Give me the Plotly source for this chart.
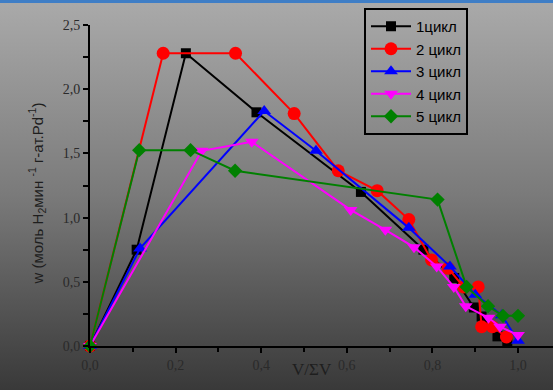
import base64
import plotly.graph_objects as go

# ---- data ----
series_names = ["1цикл", "2 цикл", "3 цикл", "4 цикл", "5 цикл"]

x1 = [0, 0.109, 0.224, 0.389, 0.633, 0.779, 0.851, 0.897, 0.915, 0.952, 0.975]
y1 = [0, 0.75, 2.28, 1.82, 1.20, 0.75, 0.53, 0.30, 0.23, 0.075, 0.03]

x2 = [0, 0.171, 0.340, 0.477, 0.580, 0.671, 0.745, 0.798, 0.837, 0.873, 0.907, 0.915, 0.940, 0.973]
y2 = [0, 2.28, 2.28, 1.81, 1.365, 1.21, 0.985, 0.67, 0.605, 0.46, 0.46, 0.15, 0.15, 0.07]

x3 = [0, 0.117, 0.407, 0.528, 0.745, 0.841, 0.900, 0.962, 1.0]
y3 = [0, 0.76, 1.83, 1.52, 0.92, 0.62, 0.40, 0.24, 0.04]

x4 = [0, 0.261, 0.378, 0.609, 0.690, 0.757, 0.810, 0.850, 0.878, 0.931, 0.958, 1.0]
y4 = [0, 1.52, 1.59, 1.06, 0.905, 0.77, 0.62, 0.46, 0.31, 0.22, 0.15, 0.085]

x5 = [0, 0.115, 0.235, 0.339, 0.812, 0.880, 0.930, 0.965, 1.0]
y5 = [0, 1.525, 1.525, 1.365, 1.14, 0.46, 0.31, 0.235, 0.235]

xs = [x1, x2, x3, x4, x5]
ys = [y1, y2, y3, y4, y5]

colors = ["#000000", "#ff0000", "#0000ff", "#ff00ff", "#008000"]
symbols = ["square", "circle", "triangle-up", "triangle-down", "diamond"]
sizes = [10, 13, 12, 12, 11]

W, H = 553, 390
ML, MR, MT, MB = 90, 0, 25, 44
PW, PH = W - ML - MR, H - MT - MB

fig = go.Figure()
for name, x, y, c, s, sz in zip(series_names, xs, ys, colors, symbols, sizes):
    fig.add_trace(go.Scatter(
        x=x, y=y, name=name, mode="lines+markers",
        line=dict(color=c, width=2),
        marker=dict(symbol=s, size=sz, color=c, line=dict(width=0)),
        cliponaxis=False,
    ))

# gradient background as SVG image
svg = f'''<svg xmlns="http://www.w3.org/2000/svg" width="{W}" height="{H}" viewBox="0 0 {W} {H}" preserveAspectRatio="none">
<defs><linearGradient id="g" x1="0" y1="0" x2="0" y2="1">
<stop offset="0" stop-color="#aaaaaa"/>
<stop offset="0.5" stop-color="#7a7a7a"/>
<stop offset="1" stop-color="#393939"/>
</linearGradient></defs>
<rect width="{W}" height="{H}" fill="url(#g)"/>
<rect width="{W}" height="3" fill="#3f7ec6"/>
</svg>'''
src = "data:image/svg+xml;base64," + base64.b64encode(svg.encode()).decode()

def px_x(p):
    return (p - ML) / PW

def px_y(p):
    return (H - MB - p) / PH

fig.add_layout_image(dict(
    source=src, xref="paper", yref="paper",
    x=px_x(0), y=px_y(0), sizex=W / PW, sizey=H / PH,
    xanchor="left", yanchor="top", sizing="stretch", layer="below",
))

tickfont = dict(family="Liberation Serif", size=14, color="#2a2a2a")

fig.update_layout(
    template="none",
    width=W, height=H,
    margin=dict(l=ML, r=MR, t=MT, b=MB),
    paper_bgcolor="#777777",
    plot_bgcolor="rgba(0,0,0,0)",
    separators=", ",
    showlegend=True,
    legend=dict(
        x=px_x(364), y=px_y(8), xanchor="left", yanchor="top",
        bgcolor="rgba(0,0,0,0)", bordercolor="#000000", borderwidth=2,
        font=dict(family="Liberation Sans", size=15, color="#000000"),
        itemwidth=40, tracegroupgap=0,
    ),
    xaxis=dict(
        range=[0, (W - ML) / 428], showgrid=False, zeroline=False,
        showline=True, linecolor="#000000", linewidth=2,
        ticks="outside", ticklen=5, tickwidth=2, tickcolor="#000000",
        tick0=0, dtick=0.2, tickformat=".1f", tickfont=tickfont,
        minor=dict(dtick=0.1, ticks="outside", ticklen=4, tickwidth=2,
                   tickcolor="#000000", showgrid=False),
    ),
    yaxis=dict(
        range=[0, 2.5], showgrid=False, zeroline=False,
        showline=True, linecolor="#000000", linewidth=2,
        ticks="outside", ticklen=5, tickwidth=2, tickcolor="#000000",
        tick0=0, dtick=0.5, tickformat=".1f", tickfont=tickfont,
        minor=dict(dtick=0.25, ticks="outside", ticklen=5, tickwidth=2,
                   tickcolor="#000000", showgrid=False),
    ),
    annotations=[
        dict(text="V/ΣV", xref="paper", yref="paper", x=px_x(312), y=px_y(381),
             showarrow=False, font=dict(family="Liberation Serif", size=17, color="#1e1e1e")),
        dict(text="w (моль H<sub>2</sub>мин <sup>-1</sup> г-ат.Pd<sup>-1</sup>)",
             xref="paper", yref="paper", x=px_x(25), y=px_y(194), textangle=-90,
             showarrow=False, font=dict(family="Liberation Sans", size=15, color="#1e1e1e")),
    ],
)

fig.write_html(
    "out.html",
    config={"displayModeBar": False},
    post_script="document.body.style.margin='0';document.body.style.overflow='hidden';",
)
